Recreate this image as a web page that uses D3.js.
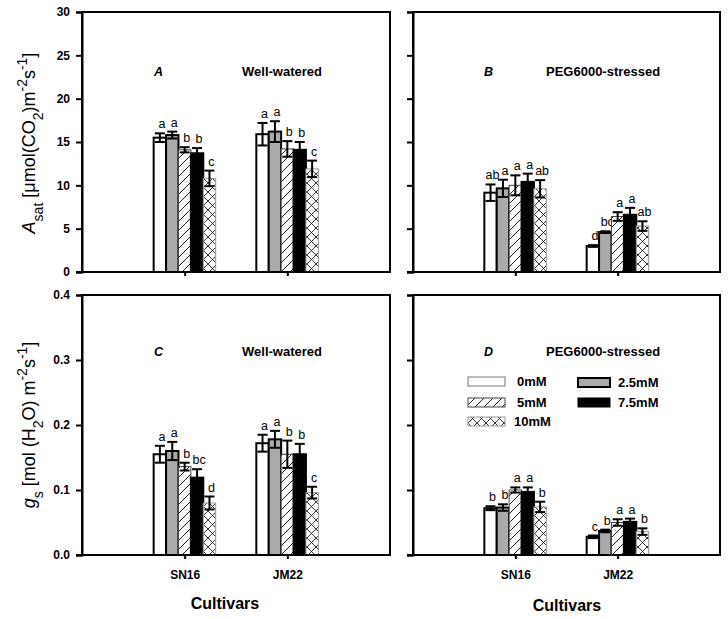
<!DOCTYPE html>
<html><head><meta charset="utf-8">
<script src="https://cdn.jsdelivr.net/npm/d3@7"></script>
<style>
body{margin:0;background:#fff;}
text{font-family:"Liberation Sans",Arial,sans-serif;fill:#000;}
</style></head>
<body><svg id="c" width="728" height="619"></svg>
<script>
const cultivars = ["SN16","JM22"];
const treatments = ["0mM","2.5mM","5mM","7.5mM","10mM"];

const asatWW = [[15.5,15.8,14.1,13.7,10.8],[15.9,16.2,14.2,14.1,11.9]];
const asatWWErr = [[0.5,0.4,0.3,0.6,0.9],[1.3,1.2,0.9,0.9,0.95]];
const asatWWLetters = [["a","a","b","b","c"],["a","a","b","b","c"]];

const asatPEG = [[9.15,9.65,10.0,10.4,9.6],[3.0,4.6,6.4,6.6,5.3]];
const asatPEGErr = [[0.95,1.0,1.15,0.95,1.0],[0.1,0.1,0.5,0.8,0.55]];
const asatPEGLetters = [["ab","a","a","a","ab"],["d","bc","a","a","ab"]];

const gsWW = [[0.155,0.160,0.136,0.119,0.080],[0.172,0.178,0.155,0.155,0.096]];
const gsWWErr = [[0.013,0.014,0.006,0.013,0.010],[0.013,0.013,0.021,0.016,0.009]];
const gsWWLetters = [["a","a","b","bc","d"],["a","a","b","b","c"]];

const gsPEG = [[0.072,0.073,0.100,0.097,0.074],[0.028,0.037,0.050,0.051,0.036]];
const gsPEGErr = [[0.003,0.005,0.004,0.007,0.008],[0.002,0.002,0.005,0.005,0.005]];
const gsPEGLetters = [["b","b","a","a","b"],["c","b","a","a","b"]];

const asatTicks = [0,5,10,15,20,25,30];
const gsTicks = [0,0.1,0.2,0.3,0.4];

const svg = d3.select("#c");
const defs = svg.append("defs");
const hp = defs.append("pattern").attr("id","hatch").attr("patternUnits","userSpaceOnUse").attr("width",9).attr("height",9);
hp.append("rect").attr("width",9).attr("height",9).attr("fill","#fff");
hp.append("path").attr("d","M-2,2 L2,-2 M0,9 L9,0 M7,11 L11,7").attr("stroke","#000").attr("stroke-width",0.9);
const cp = defs.append("pattern").attr("id","cross").attr("patternUnits","userSpaceOnUse").attr("width",9).attr("height",9);
cp.append("rect").attr("width",9).attr("height",9).attr("fill","#fff");
cp.append("path").attr("d","M0,0 L9,9 M0,9 L9,0").attr("stroke","#000").attr("stroke-width",0.8);

const styles = [
  {fill:"#fff", stroke:"#000", sw:2},
  {fill:"#aaaaaa", stroke:"#000", sw:2},
  {fill:"url(#hatch)", stroke:"#444", sw:1},
  {fill:"#000", stroke:"#000", sw:2},
  {fill:"url(#cross)", stroke:"#999", sw:1}
];

function panel(opts){
  const {x0,y0,w,h,vals,errs,letters,ticks,domain,fmt,showLabels,letter,title,showCult} = opts;
  const g = svg.append("g").attr("transform",`translate(${x0},${y0})`);
  const y = d3.scaleLinear().domain(domain).range([h,0]);
  const x = d3.scalePoint().domain(cultivars).range([0,w]).padding(1);
  const xb = d3.scaleBand().domain(treatments).range([-31,31]);
  g.append("rect").attr("width",w).attr("height",h).attr("fill","none").attr("stroke","#000").attr("stroke-width",2);
  cultivars.forEach((c,ci)=>{
    treatments.forEach((t,ti)=>{
      const v = vals[ci][ti], e = errs[ci][ti], st = styles[ti];
      const bx = x(c)+xb(t), bw = xb.bandwidth();
      g.append("rect").attr("x",bx).attr("y",y(v)).attr("width",bw).attr("height",y(0)-y(v))
        .attr("fill",st.fill).attr("stroke",st.stroke).attr("stroke-width",st.sw);
      const cx = bx+bw/2, cw = 5;
      const eg = g.append("g").attr("stroke","#000").attr("stroke-width",2);
      eg.append("line").attr("x1",cx).attr("x2",cx).attr("y1",y(v-e)).attr("y2",y(v+e));
      eg.append("line").attr("x1",cx-cw).attr("x2",cx+cw).attr("y1",y(v+e)).attr("y2",y(v+e));
      eg.append("line").attr("x1",cx-cw).attr("x2",cx+cw).attr("y1",y(v-e)).attr("y2",y(v-e));
      g.append("text").attr("x",cx+2).attr("y",y(v+e)-5).attr("text-anchor","middle")
        .attr("font-size",12.5).attr("fill","#000").text(letters[ci][ti]);
    });
  });
  const ya = d3.axisLeft(y).tickValues(ticks).tickSize(6).tickFormat(showLabels?fmt:"");
  const yg = g.append("g").call(ya);
  yg.select(".domain").attr("stroke-width",2);
  yg.selectAll(".tick line").attr("stroke-width",2);
  yg.selectAll(".tick text").attr("font-size",12).attr("font-weight","bold").attr("font-family","Liberation Sans, Arial, sans-serif").attr("x",-12).attr("fill","#000");
  const xa = d3.axisBottom(x).tickSize(4).tickFormat(showCult?(d=>d):"");
  const xg = g.append("g").attr("transform",`translate(0,${h})`).call(xa);
  xg.select(".domain").attr("d",`M-6,0H${w}`).attr("stroke-width",2);
  xg.selectAll(".tick line").attr("stroke-width",2);
  xg.selectAll(".tick text").attr("font-size",12).attr("font-weight","bold").attr("font-family","Liberation Sans, Arial, sans-serif").attr("dy","1.45em").attr("fill","#000");
  g.append("text").attr("x",opts.lx).attr("y",opts.ly).attr("font-size",12.5).attr("font-weight","bold").attr("font-style","italic").text(letter);
  g.append("text").attr("x",opts.tx).attr("y",opts.ly).attr("font-size",13).attr("font-weight","bold").text(title);
  return g;
}

panel({x0:82,y0:12,w:308,h:260,vals:asatWW,errs:asatWWErr,letters:asatWWLetters,ticks:asatTicks,domain:[0,30],fmt:d3.format("d"),showLabels:true,letter:"A",title:"Well-watered",lx:72,tx:160,ly:64,showCult:false});
panel({x0:413,y0:12,w:307,h:260,vals:asatPEG,errs:asatPEGErr,letters:asatPEGLetters,ticks:asatTicks,domain:[0,30],fmt:d3.format("d"),showLabels:false,letter:"B",title:"PEG6000-stressed",lx:71,tx:133,ly:64,showCult:false});
panel({x0:82,y0:295,w:308,h:260,vals:gsWW,errs:gsWWErr,letters:gsWWLetters,ticks:gsTicks,domain:[0,0.4],fmt:d3.format(".1f"),showLabels:true,letter:"C",title:"Well-watered",lx:72,tx:160,ly:61,showCult:true});
panel({x0:413,y0:295,w:307,h:260,vals:gsPEG,errs:gsPEGErr,letters:gsPEGLetters,ticks:gsTicks,domain:[0,0.4],fmt:d3.format(".1f"),showLabels:false,letter:"D",title:"PEG6000-stressed",lx:71,tx:133,ly:61,showCult:true});

const legendItems = [
  {t:0, x:468, y:377, tx:517},
  {t:2, x:468, y:398, tx:517},
  {t:4, x:468, y:417, tx:514},
  {t:1, x:578, y:378, tx:618},
  {t:3, x:578, y:398, tx:618}
];
legendItems.forEach(li=>{
  const st = styles[li.t];
  svg.append("rect").attr("x",li.x).attr("y",li.y).attr("width",li.t===1||li.t===3?32:37).attr("height",9)
    .attr("fill",st.fill).attr("stroke",li.t===0?"#777":st.stroke).attr("stroke-width",li.t===1?2:1);
  svg.append("text").attr("x",li.tx).attr("y",li.y+9).attr("font-size",13).attr("font-weight","bold").text(treatments[li.t]);
});

svg.append("text").attr("x",225).attr("y",609).attr("text-anchor","middle").attr("font-size",16).attr("font-weight","bold").text("Cultivars");
svg.append("text").attr("x",567).attr("y",611).attr("text-anchor","middle").attr("font-size",16).attr("font-weight","bold").text("Cultivars");

const t1 = svg.append("text").attr("transform","translate(35,143) rotate(-90)").attr("text-anchor","middle").attr("font-size",18);
t1.append("tspan").attr("font-style","italic").text("A");
t1.append("tspan").attr("font-size",14).attr("baseline-shift","sub").text("sat");
t1.append("tspan").text(" [μmol(CO");
t1.append("tspan").attr("font-size",14).attr("baseline-shift","sub").text("2");
t1.append("tspan").text(")m");
t1.append("tspan").attr("font-size",14).attr("baseline-shift","super").text("-2");
t1.append("tspan").text("s");
t1.append("tspan").attr("font-size",14).attr("baseline-shift","super").text("-1");
t1.append("tspan").text("]");

const t2 = svg.append("text").attr("transform","translate(35,425) rotate(-90)").attr("text-anchor","middle").attr("font-size",18);
t2.append("tspan").attr("font-style","italic").text("g");
t2.append("tspan").attr("font-size",14).attr("baseline-shift","sub").text("s");
t2.append("tspan").text(" [mol (H");
t2.append("tspan").attr("font-size",14).attr("baseline-shift","sub").text("2");
t2.append("tspan").text("O) m");
t2.append("tspan").attr("font-size",14).attr("baseline-shift","super").text("-2");
t2.append("tspan").text("s");
t2.append("tspan").attr("font-size",14).attr("baseline-shift","super").text("-1");
t2.append("tspan").text("]");
</script></body></html>
